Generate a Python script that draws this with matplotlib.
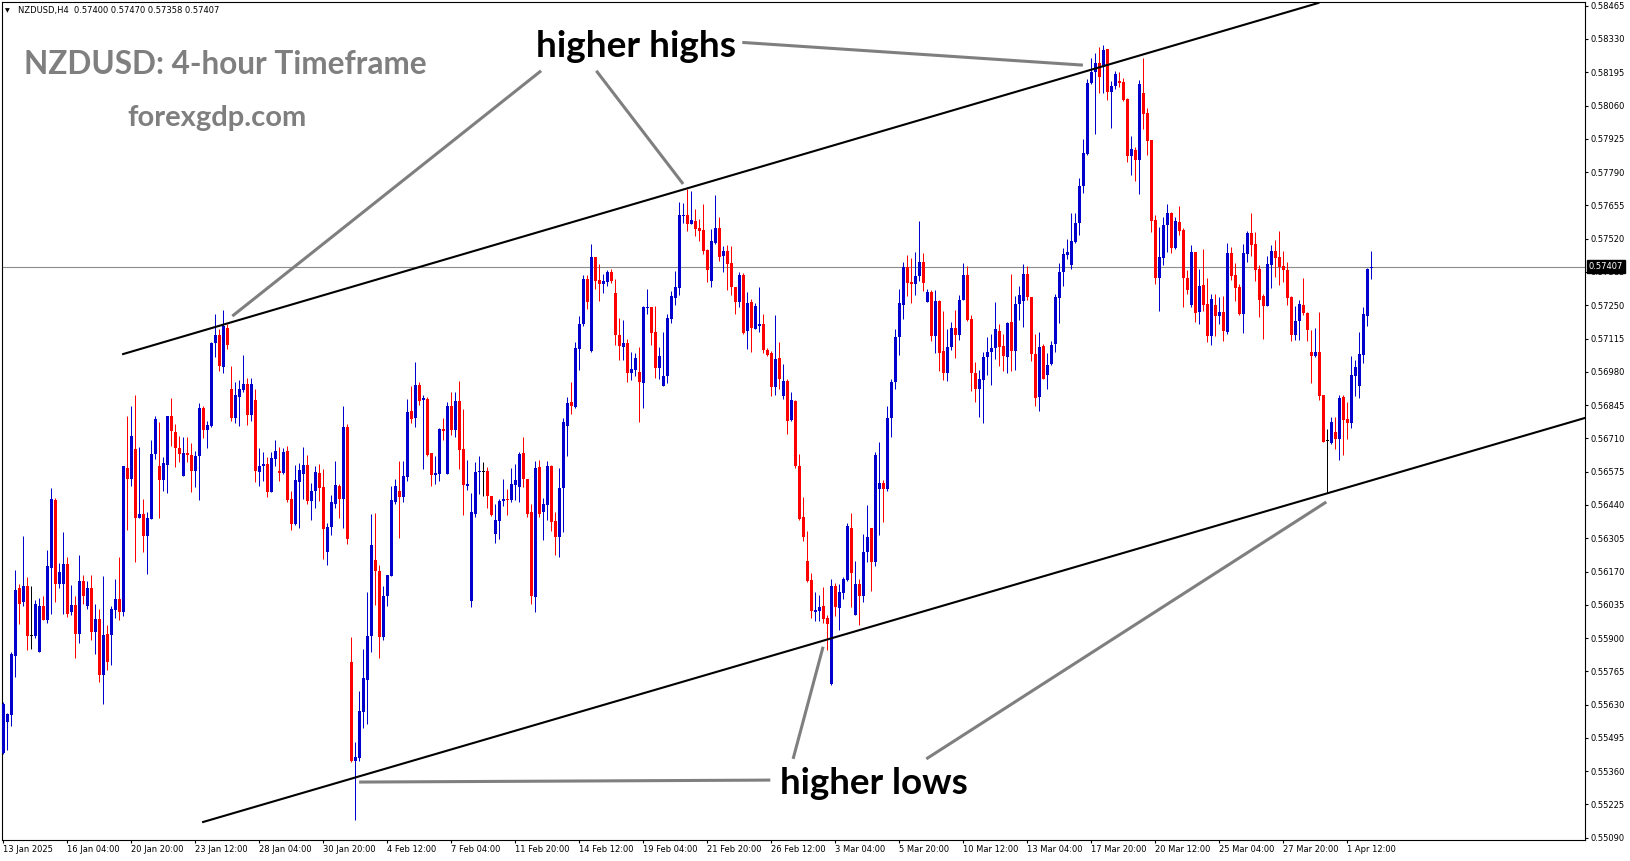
import matplotlib
matplotlib.use('Agg')
import matplotlib.pyplot as plt
import matplotlib.transforms as mtrans

# NZDUSD H4 candles (bar 0 = 13 Jan 2025 12:00)
opens = [
    0.55434, 0.55561, 0.55589, 0.55829, 0.56102, 0.56045, 0.56110, 0.55910, 0.55910, 0.55843,
    0.56032, 0.55972, 0.56186, 0.56461, 0.56118, 0.56118, 0.56202, 0.56005, 0.56036, 0.55916,
    0.56133, 0.56029, 0.56105, 0.55926, 0.55979, 0.55750, 0.55918, 0.55912, 0.56013, 0.56060,
    0.56005, 0.56591, 0.56547, 0.56668, 0.56388, 0.56404, 0.56313, 0.56385, 0.56645, 0.56596,
    0.56542, 0.56604, 0.56799, 0.56736, 0.56672, 0.56556, 0.56651, 0.56643, 0.56576, 0.56637,
    0.56834, 0.56745, 0.56761, 0.57096, 0.57131, 0.57001, 0.57158, 0.56912, 0.56792, 0.56879,
    0.56906, 0.56930, 0.56805, 0.56866, 0.56575, 0.56596, 0.56606, 0.56494, 0.56628, 0.56578,
    0.56571, 0.56659, 0.56465, 0.56363, 0.56533, 0.56566, 0.56602, 0.56458, 0.56497, 0.56570,
    0.56513, 0.56250, 0.56351, 0.56444, 0.56517, 0.56465, 0.56756, 0.55804, 0.55403, 0.55412,
    0.55599, 0.55732, 0.55910, 0.56218, 0.56173, 0.55903, 0.56069, 0.56153, 0.56452, 0.56497,
    0.56474, 0.56554, 0.56821, 0.56793, 0.56926, 0.56866, 0.56870, 0.56651, 0.56562, 0.56566,
    0.56748, 0.56566, 0.56841, 0.56744, 0.56861, 0.56667, 0.56517, 0.56050, 0.56405, 0.56573,
    0.56575, 0.56579, 0.56478, 0.56324, 0.56373, 0.56454, 0.56466, 0.56459, 0.56519, 0.56512,
    0.56652, 0.56547, 0.56413, 0.56066, 0.56592, 0.56413, 0.56438, 0.56596, 0.56374, 0.56309,
    0.56507, 0.56762, 0.56859, 0.56839, 0.57074, 0.57175, 0.57357, 0.57065, 0.57446, 0.57353,
    0.57338, 0.57345, 0.57385, 0.57300, 0.57130, 0.57079, 0.57098, 0.56976, 0.56986, 0.56980,
    0.56933, 0.57237, 0.57244, 0.57142, 0.56994, 0.56921, 0.56962, 0.57196, 0.57281, 0.57318,
    0.57610, 0.57618, 0.57581, 0.57592, 0.57564, 0.57556, 0.57475, 0.57350, 0.57503, 0.57564,
    0.57448, 0.57470, 0.57422, 0.57322, 0.57265, 0.57373, 0.57144, 0.57264, 0.57152, 0.57164,
    0.57175, 0.57070, 0.57057, 0.56917, 0.57037, 0.56881, 0.56944, 0.56783, 0.56863, 0.56597,
    0.56390, 0.56211, 0.56134, 0.56006, 0.56010, 0.56030, 0.55981, 0.55713, 0.56110, 0.56023,
    0.56081, 0.56134, 0.56345, 0.55994, 0.56118, 0.56071, 0.56249, 0.56346, 0.56208, 0.56504,
    0.56527, 0.56504, 0.56791, 0.56937, 0.57122, 0.57249, 0.57406, 0.57345, 0.57338, 0.57367,
    0.57426, 0.57265, 0.57304, 0.57126, 0.57268, 0.57065, 0.56976, 0.57081, 0.57158, 0.57129,
    0.57270, 0.57374, 0.57196, 0.56974, 0.56912, 0.56946, 0.57042, 0.57059, 0.57078, 0.57147,
    0.57086, 0.57042, 0.57183, 0.57066, 0.57256, 0.57266, 0.57378, 0.57285, 0.57054, 0.56877,
    0.57086, 0.56966, 0.57011, 0.57093, 0.57278, 0.57383, 0.57452, 0.57414, 0.57507, 0.57582,
    0.57732, 0.57864, 0.58150, 0.58196, 0.58232, 0.58218, 0.58288, 0.58115, 0.58139, 0.58161,
    0.58155, 0.58087, 0.57857, 0.57880, 0.57841, 0.58111, 0.58030, 0.57921, 0.57597, 0.57359,
    0.57440, 0.57576, 0.57625, 0.57484, 0.57588, 0.57556, 0.57361, 0.57252, 0.57466, 0.57223,
    0.57333, 0.57256, 0.57126, 0.57252, 0.57207, 0.57223, 0.57142, 0.57462, 0.57373, 0.57325,
    0.57215, 0.57458, 0.57543, 0.57499, 0.57398, 0.57288, 0.57248, 0.57414, 0.57470, 0.57446,
    0.57410, 0.57394, 0.57284, 0.57130, 0.57187, 0.57252, 0.57219, 0.57061, 0.57045, 0.57061,
    0.56887, 0.56701, 0.56693, 0.56737, 0.56709, 0.56879, 0.56790, 0.56774, 0.56964, 0.56924,
    0.57049, 0.57207, 0.57400,
]
highs = [
    0.55641, 0.55595, 0.55843, 0.56175, 0.56121, 0.56313, 0.56146, 0.56110, 0.56056, 0.56061,
    0.56072, 0.56256, 0.56510, 0.56469, 0.56205, 0.56331, 0.56227, 0.56117, 0.56070, 0.56238,
    0.56157, 0.56130, 0.56157, 0.56040, 0.56016, 0.56151, 0.55955, 0.56029, 0.56141, 0.56227,
    0.56600, 0.56799, 0.56842, 0.56886, 0.56677, 0.56465, 0.56412, 0.56704, 0.56801, 0.56777,
    0.56635, 0.56801, 0.56874, 0.56769, 0.56720, 0.56716, 0.56716, 0.56692, 0.56659, 0.56854,
    0.56842, 0.56781, 0.57102, 0.57214, 0.57155, 0.57231, 0.57174, 0.57005, 0.56940, 0.56947,
    0.57048, 0.56955, 0.56955, 0.56909, 0.56671, 0.56655, 0.56636, 0.56655, 0.56704, 0.56675,
    0.56671, 0.56679, 0.56497, 0.56602, 0.56610, 0.56675, 0.56643, 0.56529, 0.56596, 0.56606,
    0.56586, 0.56367, 0.56481, 0.56618, 0.56525, 0.56841, 0.56768, 0.55906, 0.55480, 0.55684,
    0.55857, 0.56088, 0.56404, 0.56409, 0.56197, 0.56112, 0.56157, 0.56515, 0.56547, 0.56618,
    0.56618, 0.56870, 0.56922, 0.57019, 0.56938, 0.56886, 0.56878, 0.56651, 0.56639, 0.56752,
    0.56793, 0.56857, 0.56898, 0.56898, 0.56942, 0.56829, 0.56623, 0.56489, 0.56616, 0.56640,
    0.56616, 0.56592, 0.56478, 0.56442, 0.56466, 0.56547, 0.56503, 0.56588, 0.56608, 0.56654,
    0.56717, 0.56547, 0.56442, 0.56620, 0.56624, 0.56470, 0.56620, 0.56601, 0.56413, 0.56588,
    0.56794, 0.56879, 0.56940, 0.57102, 0.57205, 0.57373, 0.57373, 0.57499, 0.57446, 0.57418,
    0.57377, 0.57394, 0.57398, 0.57357, 0.57199, 0.57191, 0.57114, 0.57061, 0.57057, 0.57082,
    0.57245, 0.57317, 0.57244, 0.57248, 0.57082, 0.57142, 0.57215, 0.57308, 0.57389, 0.57669,
    0.57665, 0.57722, 0.57713, 0.57641, 0.57600, 0.57661, 0.57479, 0.57560, 0.57697, 0.57608,
    0.57491, 0.57495, 0.57491, 0.57322, 0.57385, 0.57381, 0.57304, 0.57276, 0.57260, 0.57325,
    0.57215, 0.57078, 0.57065, 0.57211, 0.57102, 0.57013, 0.56952, 0.56899, 0.56867, 0.56648,
    0.56474, 0.56336, 0.56166, 0.56085, 0.56073, 0.56106, 0.55994, 0.56138, 0.56122, 0.56118,
    0.56146, 0.56365, 0.56407, 0.56211, 0.56138, 0.56324, 0.56438, 0.56346, 0.56654, 0.56694,
    0.56543, 0.56843, 0.56952, 0.57155, 0.57317, 0.57426, 0.57454, 0.57442, 0.57466, 0.57592,
    0.57462, 0.57315, 0.57313, 0.57313, 0.57272, 0.57227, 0.57155, 0.57183, 0.57232, 0.57293,
    0.57422, 0.57410, 0.57212, 0.57021, 0.56989, 0.57062, 0.57123, 0.57135, 0.57264, 0.57173,
    0.57132, 0.57183, 0.57378, 0.57289, 0.57327, 0.57417, 0.57408, 0.57285, 0.57135, 0.57143,
    0.57092, 0.57058, 0.57105, 0.57294, 0.57421, 0.57483, 0.57517, 0.57625, 0.57625, 0.57767,
    0.57926, 0.58169, 0.58253, 0.58274, 0.58299, 0.58305, 0.58288, 0.58159, 0.58201, 0.58196,
    0.58173, 0.58089, 0.57937, 0.57892, 0.58164, 0.58253, 0.58050, 0.57921, 0.57617, 0.57568,
    0.57606, 0.57661, 0.57629, 0.57609, 0.57651, 0.57564, 0.57391, 0.57495, 0.57466, 0.57398,
    0.57479, 0.57361, 0.57296, 0.57296, 0.57284, 0.57288, 0.57503, 0.57487, 0.57422, 0.57337,
    0.57499, 0.57551, 0.57624, 0.57547, 0.57414, 0.57296, 0.57450, 0.57495, 0.57515, 0.57551,
    0.57470, 0.57426, 0.57288, 0.57248, 0.57272, 0.57361, 0.57223, 0.57151, 0.57159, 0.57223,
    0.56887, 0.56750, 0.56798, 0.56798, 0.56887, 0.56887, 0.56859, 0.57045, 0.57029, 0.57142,
    0.57244, 0.57402, 0.57470,
]
lows = [
    0.55430, 0.55446, 0.55545, 0.55741, 0.55959, 0.56032, 0.55851, 0.55854, 0.55899, 0.55843,
    0.55972, 0.55962, 0.55999, 0.56048, 0.56102, 0.55997, 0.55986, 0.55995, 0.55818, 0.55879,
    0.56040, 0.56018, 0.55894, 0.55835, 0.55721, 0.55631, 0.55770, 0.55790, 0.55982, 0.55972,
    0.55989, 0.56337, 0.56515, 0.56210, 0.56388, 0.56248, 0.56161, 0.56385, 0.56628, 0.56388,
    0.56497, 0.56487, 0.56681, 0.56592, 0.56615, 0.56556, 0.56616, 0.56491, 0.56511, 0.56462,
    0.56713, 0.56673, 0.56758, 0.57042, 0.56985, 0.56977, 0.57074, 0.56782, 0.56774, 0.56760,
    0.56899, 0.56764, 0.56782, 0.56533, 0.56517, 0.56539, 0.56474, 0.56494, 0.56598, 0.56539,
    0.56566, 0.56450, 0.56339, 0.56359, 0.56348, 0.56465, 0.56444, 0.56380, 0.56428, 0.56458,
    0.56222, 0.56197, 0.56319, 0.56428, 0.56388, 0.56347, 0.56282, 0.55397, 0.55162, 0.55401,
    0.55534, 0.55551, 0.55842, 0.56035, 0.55818, 0.55894, 0.56029, 0.56153, 0.56442, 0.56304,
    0.56452, 0.56539, 0.56774, 0.56758, 0.56845, 0.56586, 0.56639, 0.56515, 0.56525, 0.56537,
    0.56704, 0.56566, 0.56724, 0.56717, 0.56587, 0.56401, 0.56501, 0.56026, 0.56390, 0.56486,
    0.56476, 0.56428, 0.56395, 0.56285, 0.56300, 0.56435, 0.56401, 0.56451, 0.56462, 0.56451,
    0.56512, 0.56390, 0.56038, 0.56006, 0.56390, 0.56297, 0.56378, 0.56334, 0.56237, 0.56228,
    0.56330, 0.56638, 0.56808, 0.56832, 0.56986, 0.57164, 0.57233, 0.57061, 0.57317, 0.57269,
    0.57300, 0.57329, 0.57342, 0.57087, 0.57026, 0.57029, 0.56937, 0.56948, 0.56964, 0.56775,
    0.56832, 0.57213, 0.57087, 0.56956, 0.56949, 0.56921, 0.56933, 0.57180, 0.57253, 0.57290,
    0.57584, 0.57553, 0.57581, 0.57529, 0.57512, 0.57456, 0.57346, 0.57322, 0.57499, 0.57431,
    0.57383, 0.57310, 0.57290, 0.57213, 0.57241, 0.57134, 0.57074, 0.57059, 0.57152, 0.57140,
    0.57055, 0.57045, 0.56881, 0.56887, 0.56909, 0.56868, 0.56727, 0.56779, 0.56589, 0.56378,
    0.56293, 0.56127, 0.55981, 0.55969, 0.55969, 0.55961, 0.55852, 0.55710, 0.55990, 0.55933,
    0.56057, 0.56131, 0.56026, 0.55994, 0.55953, 0.56046, 0.56208, 0.56091, 0.56192, 0.56318,
    0.56370, 0.56496, 0.56714, 0.56909, 0.57047, 0.57196, 0.57286, 0.57261, 0.57290, 0.57350,
    0.57306, 0.57263, 0.57107, 0.57055, 0.56982, 0.56948, 0.56942, 0.57070, 0.57036, 0.57111,
    0.57270, 0.57187, 0.56901, 0.56857, 0.56796, 0.56773, 0.56966, 0.56926, 0.57030, 0.57003,
    0.56982, 0.56974, 0.56982, 0.56989, 0.57192, 0.57160, 0.57270, 0.57023, 0.56841, 0.56820,
    0.56949, 0.56909, 0.57007, 0.57059, 0.57177, 0.57327, 0.57439, 0.57399, 0.57501, 0.57533,
    0.57707, 0.57860, 0.58148, 0.57945, 0.58110, 0.58110, 0.58084, 0.57970, 0.58128, 0.58137,
    0.58080, 0.57831, 0.57780, 0.57754, 0.57703, 0.57966, 0.57861, 0.57547, 0.57335, 0.57225,
    0.57412, 0.57468, 0.57460, 0.57479, 0.57533, 0.57241, 0.57296, 0.57244, 0.57183, 0.57175,
    0.57227, 0.57102, 0.57090, 0.57126, 0.57175, 0.57106, 0.57134, 0.57353, 0.57268, 0.57211,
    0.57138, 0.57426, 0.57450, 0.57349, 0.57203, 0.57114, 0.57248, 0.57321, 0.57365, 0.57333,
    0.57345, 0.57252, 0.57106, 0.57110, 0.57110, 0.57211, 0.57106, 0.56936, 0.57041, 0.56867,
    0.56697, 0.56490, 0.56689, 0.56665, 0.56624, 0.56644, 0.56709, 0.56754, 0.56883, 0.56875,
    0.57017, 0.57167, 0.57358,
]
closes = [
    0.55633, 0.55591, 0.55837, 0.56097, 0.56040, 0.56110, 0.55910, 0.55910, 0.56040, 0.56029,
    0.55972, 0.56191, 0.56464, 0.56121, 0.56169, 0.56202, 0.55999, 0.56036, 0.55916, 0.56133,
    0.56070, 0.56105, 0.55926, 0.55979, 0.55750, 0.55914, 0.55802, 0.56016, 0.56060, 0.56005,
    0.56596, 0.56547, 0.56718, 0.56388, 0.56404, 0.56313, 0.56388, 0.56647, 0.56789, 0.56542,
    0.56611, 0.56799, 0.56738, 0.56669, 0.56645, 0.56651, 0.56643, 0.56576, 0.56639, 0.56834,
    0.56742, 0.56765, 0.57098, 0.57131, 0.57005, 0.57166, 0.57090, 0.56794, 0.56884, 0.56910,
    0.56930, 0.56805, 0.56930, 0.56579, 0.56598, 0.56606, 0.56494, 0.56631, 0.56659, 0.56571,
    0.56655, 0.56461, 0.56363, 0.56542, 0.56582, 0.56602, 0.56458, 0.56497, 0.56574, 0.56509,
    0.56343, 0.56351, 0.56452, 0.56521, 0.56465, 0.56756, 0.56303, 0.55403, 0.55416, 0.55603,
    0.55740, 0.55910, 0.56278, 0.56174, 0.55903, 0.56072, 0.56157, 0.56461, 0.56517, 0.56474,
    0.56558, 0.56817, 0.56789, 0.56926, 0.56861, 0.56874, 0.56643, 0.56562, 0.56570, 0.56748,
    0.56740, 0.56841, 0.56744, 0.56861, 0.56663, 0.56521, 0.56525, 0.56411, 0.56575, 0.56578,
    0.56575, 0.56476, 0.56401, 0.56377, 0.56454, 0.56466, 0.56459, 0.56523, 0.56543, 0.56648,
    0.56544, 0.56405, 0.56071, 0.56588, 0.56405, 0.56442, 0.56596, 0.56370, 0.56309, 0.56507,
    0.56778, 0.56855, 0.56843, 0.57078, 0.57175, 0.57357, 0.57264, 0.57446, 0.57350, 0.57338,
    0.57349, 0.57385, 0.57349, 0.57128, 0.57083, 0.57098, 0.56974, 0.56993, 0.57037, 0.56937,
    0.57241, 0.57241, 0.57138, 0.56994, 0.57045, 0.56962, 0.57199, 0.57286, 0.57325, 0.57616,
    0.57618, 0.57581, 0.57596, 0.57561, 0.57553, 0.57470, 0.57394, 0.57511, 0.57564, 0.57446,
    0.57470, 0.57419, 0.57322, 0.57265, 0.57373, 0.57138, 0.57260, 0.57156, 0.57248, 0.57175,
    0.57067, 0.57049, 0.56917, 0.57033, 0.56949, 0.56944, 0.56779, 0.56864, 0.56597, 0.56382,
    0.56309, 0.56131, 0.56010, 0.56012, 0.56025, 0.55976, 0.55957, 0.56110, 0.56026, 0.56085,
    0.56138, 0.56353, 0.56164, 0.56118, 0.56071, 0.56251, 0.56308, 0.56208, 0.56644, 0.56527,
    0.56504, 0.56794, 0.56940, 0.57122, 0.57260, 0.57406, 0.57342, 0.57338, 0.57369, 0.57426,
    0.57342, 0.57304, 0.57124, 0.57268, 0.57057, 0.56975, 0.57081, 0.57158, 0.57129, 0.57273,
    0.57374, 0.57192, 0.56974, 0.56909, 0.56949, 0.57042, 0.57062, 0.57078, 0.57155, 0.57082,
    0.57043, 0.57179, 0.57066, 0.57256, 0.57293, 0.57378, 0.57285, 0.57051, 0.56873, 0.57082,
    0.56951, 0.57009, 0.57090, 0.57282, 0.57386, 0.57459, 0.57467, 0.57511, 0.57584, 0.57734,
    0.57867, 0.58151, 0.58196, 0.58232, 0.58177, 0.58284, 0.58115, 0.58139, 0.58188, 0.58153,
    0.58083, 0.57857, 0.57884, 0.57841, 0.58147, 0.58027, 0.57918, 0.57592, 0.57359, 0.57447,
    0.57576, 0.57625, 0.57484, 0.57592, 0.57553, 0.57359, 0.57313, 0.57466, 0.57219, 0.57329,
    0.57252, 0.57126, 0.57276, 0.57207, 0.57223, 0.57146, 0.57462, 0.57369, 0.57321, 0.57215,
    0.57462, 0.57543, 0.57495, 0.57394, 0.57272, 0.57248, 0.57418, 0.57470, 0.57442, 0.57406,
    0.57394, 0.57280, 0.57130, 0.57187, 0.57256, 0.57219, 0.57151, 0.57045, 0.57061, 0.56883,
    0.56697, 0.56701, 0.56778, 0.56709, 0.56875, 0.56786, 0.56774, 0.56968, 0.57001, 0.57053,
    0.57215, 0.57398, 0.57407,
]

date_labels = ['13 Jan 2025', '16 Jan 04:00', '20 Jan 20:00', '23 Jan 12:00', '28 Jan 04:00',
               '30 Jan 20:00', '4 Feb 12:00', '7 Feb 04:00', '11 Feb 20:00', '14 Feb 12:00',
               '19 Feb 04:00', '21 Feb 20:00', '26 Feb 12:00', '3 Mar 04:00', '5 Mar 20:00',
               '10 Mar 12:00', '13 Mar 04:00', '17 Mar 20:00', '20 Mar 12:00', '25 Mar 04:00',
               '27 Mar 20:00', '1 Apr 12:00']
price_labels = ['0.58465', '0.58330', '0.58195', '0.58060', '0.57925', '0.57790', '0.57655',
                '0.57520', '0.57385', '0.57250', '0.57115', '0.56980', '0.56845', '0.56710',
                '0.56575', '0.56440', '0.56305', '0.56170', '0.56035', '0.55900', '0.55765',
                '0.55630', '0.55495', '0.55360', '0.55225', '0.55090']
last_price = 0.57407
header = 'NZDUSD,H4  0.57400 0.57470 0.57358 0.57407'

# drawn trend lines, (bar, price) end points
upper_channel = [(29.9, 0.57052), (328.7, 0.58476)]
lower_channel = [(49.9, 0.55154), (395.4, 0.56793)]
pointer_lines = [
    [(134.4, 0.58201), (57.2, 0.57206)],
    [(148.2, 0.58201), (169.9, 0.57742)],
    [(184.7, 0.58316), (269.85, 0.58224)],
    [(88.9, 0.55316), (191.7, 0.55324)],
    [(197.4, 0.55410), (204.9, 0.55865)],
    [(230.7, 0.55410), (330.7, 0.56452)],
]

W, H = 1631, 861
BLUE = '#0000cd'
RED = '#ff0000'
GREY = '#7f7f7f'

fig = plt.figure(figsize=(W / 100, H / 100), dpi=100)
ax = fig.add_axes([2 / W, 21 / H, 1583 / W, 838 / H])
# 4 px per bar, bar centres on pixel centres
ax.set_xlim(-0.375, 395.375)
ax.set_ylim(0.55081, 0.58480)

bars = list(range(len(closes)))
colors = [BLUE if c > o else RED if c < o else 'black' for o, c in zip(opens, closes)]
bottoms = [min(o, c) for o, c in zip(opens, closes)]
heights = [max(abs(c - o), 0.00004) for o, c in zip(opens, closes)]

ax.axhline(last_price, color='#8c8c8c', lw=0.8, zorder=1)
ax.vlines(bars, lows, highs, colors=colors, lw=0.72, zorder=3)
ax.bar(bars, heights, 0.75, bottoms, color=colors, lw=0, zorder=4)

for line in (upper_channel, lower_channel):
    ax.plot([p[0] for p in line], [p[1] for p in line], color='black', lw=1.5, zorder=5)
for line in pointer_lines:
    ax.plot([p[0] for p in line], [p[1] for p in line], color=GREY, lw=2.2, zorder=5,
            solid_capstyle='butt')

# axes in MT4 style
for s in ax.spines.values():
    s.set_linewidth(0.8)
ax.yaxis.tick_right()
ax.set_yticks([float(s) for s in price_labels])
ax.set_yticklabels(price_labels)
ax.set_xticks(range(0, 16 * len(date_labels), 16))
ax.set_xticklabels(date_labels, ha='left')
ax.tick_params(axis='both', length=2.2, width=0.8, pad=1.5, labelsize=6)

trans = mtrans.blended_transform_factory(ax.transAxes, ax.transData)
ax.text(1.0 + 4 / 1583, last_price, f'{last_price:.5f}', transform=trans, ha='left',
        va='center', fontsize=6, color='white', zorder=10, clip_on=False,
        bbox=dict(boxstyle='square,pad=0.25', fc='black', ec='black'))

# header and annotations
fig.text(5 / W, 1 - 10.5 / H, '▼', fontsize=4.5, va='center')
fig.text(18 / W, 1 - 10.5 / H, header, fontsize=6, va='center')
fig.text(24 / W, 1 - 74 / H, 'NZDUSD: 4-hour Timeframe', family='Lato', fontweight='bold',
         fontsize=22.7, color=GREY, va='baseline')
fig.text(127 / W, 1 - 126 / H, 'forexgdp.com', family='Lato', fontweight='bold',
         fontsize=21, color=GREY, va='baseline')
fig.text(536 / W, 1 - 57.3 / H, 'higher highs', family='Lato', fontweight='bold',
         fontsize=26.6, color='black', va='baseline')
fig.text(780 / W, 1 - 793.7 / H, 'higher lows', family='Lato', fontweight='bold',
         fontsize=26.5, color='black', va='baseline')

fig.savefig('out.png', dpi=100)
